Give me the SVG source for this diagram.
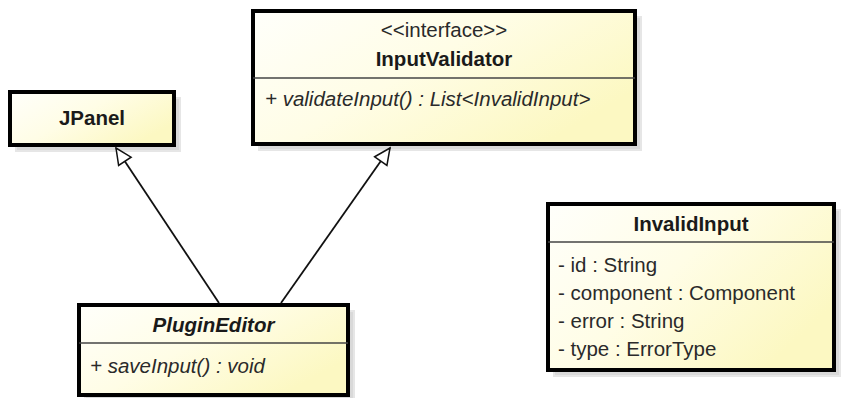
<svg xmlns="http://www.w3.org/2000/svg" width="846" height="398" viewBox="0 0 846 398">
  <defs>
    <linearGradient id="classFill" x1="0" y1="0" x2="1" y2="0.6">
      <stop offset="0" stop-color="#fffffb"/>
      <stop offset="0.5" stop-color="#fffde6"/>
      <stop offset="1" stop-color="#fcf8c2"/>
    </linearGradient>
    <marker id="generalization" viewBox="0 0 20 20" refX="18" refY="10" markerWidth="20" markerHeight="20" markerUnits="userSpaceOnUse" orient="auto">
      <path d="M2,2.5 L18,10 L2,17.5 Z" fill="#ffffff" stroke="#111111" stroke-width="1.5" stroke-linejoin="miter"/>
    </marker>
  </defs>
  <style>
    .shadow { fill: #d9d9d9; stroke: #e6e6e6; stroke-width: 2; }
    .box { fill: url(#classFill); stroke: #000000; stroke-width: 4; }
    .divider { stroke: #444444; stroke-width: 1.5; }
    text { font-family: "Liberation Sans", Arial, sans-serif; font-size: 20.5px; fill: #1a1a1a; }
    .name { font-weight: bold; text-anchor: middle; }
    .abstract { font-weight: bold; font-style: italic; text-anchor: middle; }
    .stereo { text-anchor: middle; fill: #2a2a2a; }
    .op { font-style: italic; fill: #2a2a2a; }
    .attr { fill: #2a2a2a; }
    .edge { stroke: #111111; stroke-width: 1.8; fill: none; marker-end: url(#generalization); }
  </style>

  <rect width="846" height="398" fill="#ffffff"/>

  <!-- class JPanel -->
  <g id="JPanel">
    <rect class="shadow" x="16" y="98" width="164" height="53"/>
    <rect class="box" x="10" y="92" width="164" height="53"/>
    <text class="name" x="92" y="125">JPanel</text>
  </g>

  <!-- interface InputValidator -->
  <g id="InputValidator">
    <rect class="shadow" x="259" y="17" width="382" height="133"/>
    <rect class="box" x="253" y="11" width="382" height="133"/>
    <line class="divider" x1="253" y1="78" x2="635" y2="78"/>
    <text class="stereo" x="444" y="37">&lt;&lt;interface&gt;&gt;</text>
    <text class="name" x="444" y="66">InputValidator</text>
    <text class="op" x="265" y="106">+ validateInput() : List&lt;InvalidInput&gt;</text>
  </g>

  <!-- abstract class PluginEditor -->
  <g id="PluginEditor">
    <rect class="shadow" x="85" y="311" width="269" height="90"/>
    <rect class="box" x="79" y="305" width="269" height="90"/>
    <line class="divider" x1="79" y1="343" x2="348" y2="343"/>
    <text class="abstract" x="213.5" y="332">PluginEditor</text>
    <text class="op" x="90" y="373">+ saveInput() : void</text>
  </g>

  <!-- class InvalidInput -->
  <g id="InvalidInput">
    <rect class="shadow" x="554" y="210" width="286" height="166"/>
    <rect class="box" x="548" y="204" width="286" height="166"/>
    <line class="divider" x1="548" y1="242" x2="834" y2="242"/>
    <text class="name" x="691" y="231">InvalidInput</text>
    <text class="attr" x="558" y="272">- id : String</text>
    <text class="attr" x="558" y="300">- component : Component</text>
    <text class="attr" x="558" y="328">- error : String</text>
    <text class="attr" x="558" y="356">- type : ErrorType</text>
  </g>

  <!-- generalization / realization connectors -->
  <g id="connectors">
    <line class="edge" x1="219" y1="303" x2="116" y2="148"/>
    <line class="edge" x1="281" y1="303" x2="390" y2="148"/>
  </g>
</svg>
